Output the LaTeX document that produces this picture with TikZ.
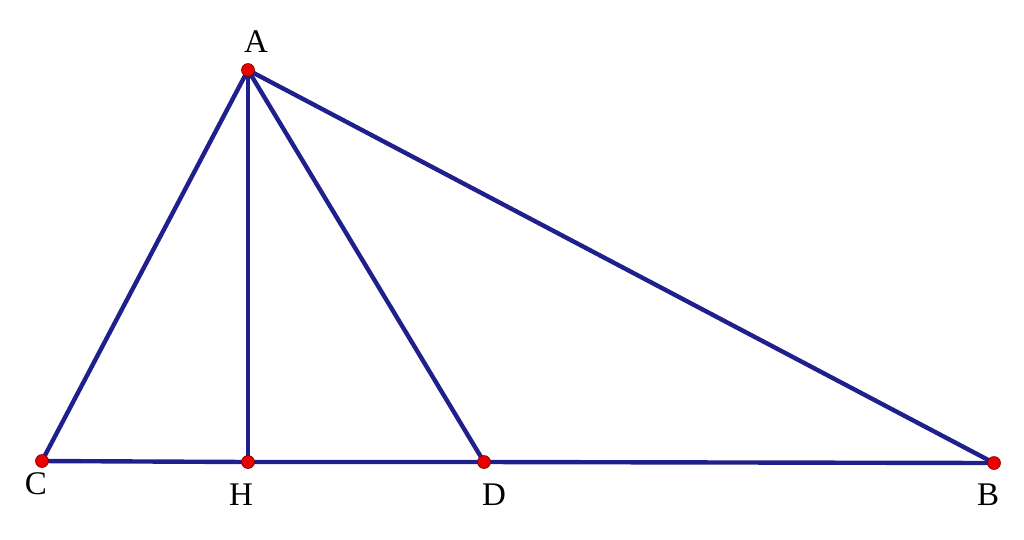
\documentclass[tikz,border=0pt]{standalone}
\usepackage{fontspec}
\setmainfont{Liberation Serif}
\definecolor{navy}{RGB}{32,32,140}
\definecolor{ptred}{RGB}{235,0,0}
\begin{document}
\begin{tikzpicture}[x=1pt,y=-1pt,
  seg/.style={draw=navy,line width=4.4pt},
  pt/.style={circle,fill=ptred,draw=ptred!50!black,line width=0.6pt,inner sep=0pt,minimum size=13pt},
  lab/.style={font=\fontsize{33}{33}\selectfont,inner sep=0pt}]
\useasboundingbox (0,0) rectangle (1024,539);
\coordinate (A) at (248,70);
\coordinate (C) at (42,461);
\coordinate (H) at (248,462);
\coordinate (D) at (484,462);
\coordinate (B) at (994,463);
\draw[seg] (C) -- (H) -- (D) -- (B);
\draw[seg] (A) -- (C);
\draw[seg] (A) -- (H);
\draw[seg] (A) -- (D);
\draw[seg] (A) -- (B);
\foreach \p in {A,C,H,D,B} \node[pt] (p\p) at (\p) {};
\node[lab] (lA) at (256,42) {A};
\node[lab] (lC) at (36,484) {C};
\node[lab] (lH) at (241,495) {H};
\node[lab] (lD) at (494,495) {D};
\node[lab] (lB) at (988,495) {B};
\end{tikzpicture}
\end{document}
